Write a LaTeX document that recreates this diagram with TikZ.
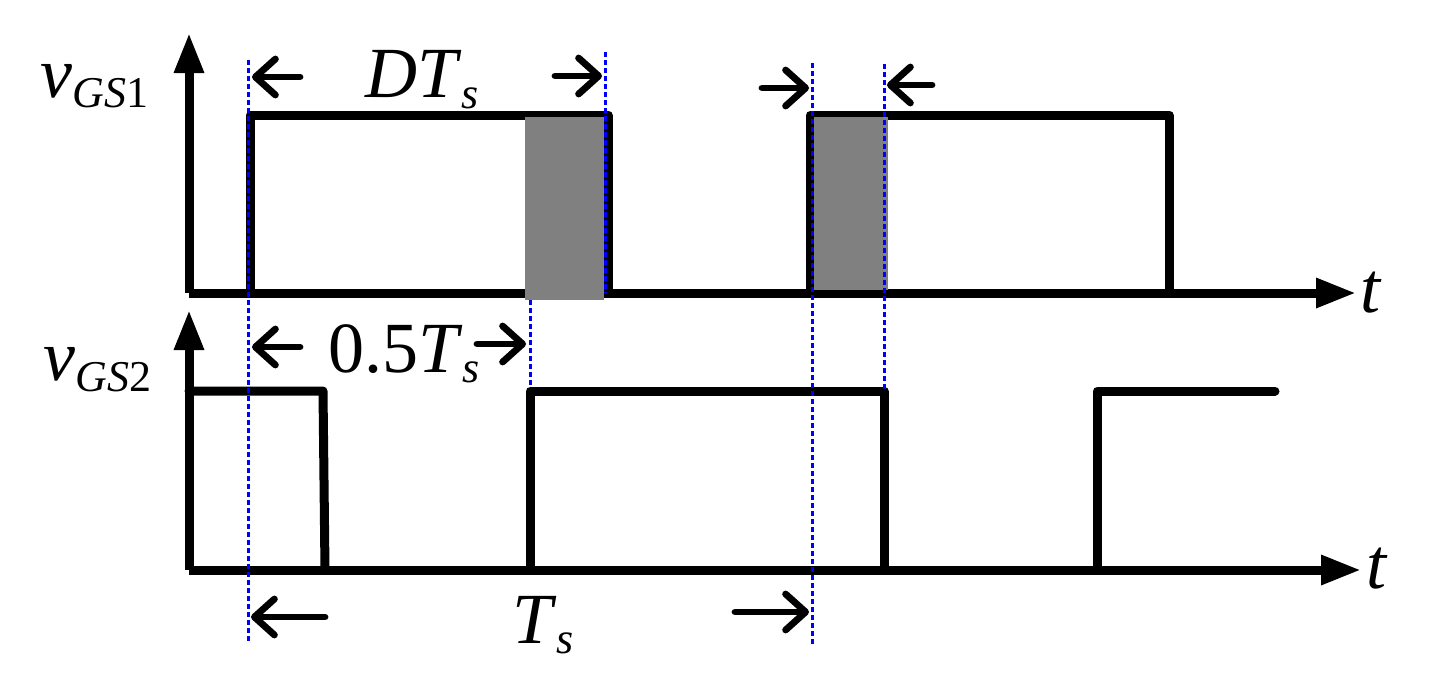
\documentclass[tikz,border=0pt]{standalone}
\usepackage{fontspec}
\setmainfont{LiberationSerif}[Extension=.ttf,UprightFont=*-Regular,ItalicFont=*-Italic,BoldFont=*-Bold,BoldItalicFont=*-BoldItalic]
\usetikzlibrary{arrows.meta}
\begin{document}
\begin{tikzpicture}[x=0.5pt,y=-0.5pt,
  sig/.style={line width=4.5pt,line cap=round,line join=round},
  axis/.style={line width=4.5pt,-{Triangle[length=20pt,width=14pt]}},
  dimarrow/.style={line width=3.4pt,line cap=round,-{Straight Barb[length=10pt,width=18pt,round]}},
  guide/.style={blue,line width=1.5pt,dash pattern=on 2.5pt off 1.5pt},
  shade/.style={fill=gray},
  lbl/.style={inner sep=0,anchor=base west,font=\fontsize{36}{40}\selectfont},
  sub/.style={font=\fontsize{22}{24}\selectfont}
]
\useasboundingbox (0,0) rectangle (1429,691);
% axes
\coordinate (o1) at (189,293);
\coordinate (y1) at (189,33);
\coordinate (x1) at (1356,293);
\coordinate (o2) at (189,570);
\coordinate (y2) at (189,310);
\coordinate (x2) at (1361,570);
\draw[axis] (o1) -- (y1);
\draw[axis] (o1) -- (x1);
\draw[axis] (o2) -- (y2);
\draw[axis] (o2) -- (x2);
% vGS1
\draw[sig] (250,293) -- (250,115) -- (608,115) -- (608,293);
\draw[sig] (810,293) -- (810,115) -- (1169,115) -- (1169,293);
% vGS2
\draw[sig] (189,391) -- (323,391) -- (325,570);
\draw[sig] (530,570) -- (530,391) -- (884,391) -- (884,570);
\draw[sig] (1097,570) -- (1097,391) -- (1275,391);
% dead-time shading
\fill[shade] (525,117) rectangle (604,300);
\fill[shade] (814,117) rectangle (888,290);
% guide lines
\draw[guide] (248,60) -- (248,642);
\draw[guide] (605,52) -- (605,293);
\draw[guide] (530,300) -- (530,386);
\draw[guide] (812,63) -- (812,646);
\draw[guide] (884,64) -- (884,390);
% dimension arrows
\coordinate (a1s) at (300,77);  \coordinate (a1e) at (252,77);
\coordinate (a2s) at (555,76);  \coordinate (a2e) at (602,76);
\coordinate (a3s) at (762,88);  \coordinate (a3e) at (809,88);
\coordinate (a4s) at (932,85);  \coordinate (a4e) at (887,85);
\coordinate (a5s) at (300,347); \coordinate (a5e) at (252,347);
\coordinate (a6s) at (477,344); \coordinate (a6e) at (526,344);
\coordinate (a7s) at (325,617); \coordinate (a7e) at (251,617);
\coordinate (a8s) at (735,612); \coordinate (a8e) at (809,612);
\foreach \s/\e in {a1s/a1e,a2s/a2e,a3s/a3e,a4s/a4e,a5s/a5e,a6s/a6e,a7s/a7e,a8s/a8e}
  \draw[dimarrow] (\s) -- (\e);
% labels
\node[lbl] (v1) at (40,97) {\textit{v}\raisebox{-5pt}{\fontsize{22}{24}\selectfont\textit{GS}1}};
\node[lbl] (v2) at (43,380) {\textit{v}\raisebox{-5.5pt}{\fontsize{22}{24}\selectfont\textit{GS}2}};
\node[lbl] (dts) at (365,97) {\textit{DT}\raisebox{-5.5pt}{\fontsize{22}{24}\selectfont\textit{s}}};
\node[lbl] (hts) at (328,372) {0.5\textit{T}\raisebox{-5pt}{\fontsize{22}{24}\selectfont\textit{s}}};
\node[lbl] (ts) at (512,643) {\textit{T}\raisebox{-5pt}{\fontsize{22}{24}\selectfont\textit{s}}};
\node[lbl] (t1) at (1360,312) {\textit{t}};
\node[lbl] (t2) at (1366,588) {\textit{t}};
\end{tikzpicture}
\end{document}
